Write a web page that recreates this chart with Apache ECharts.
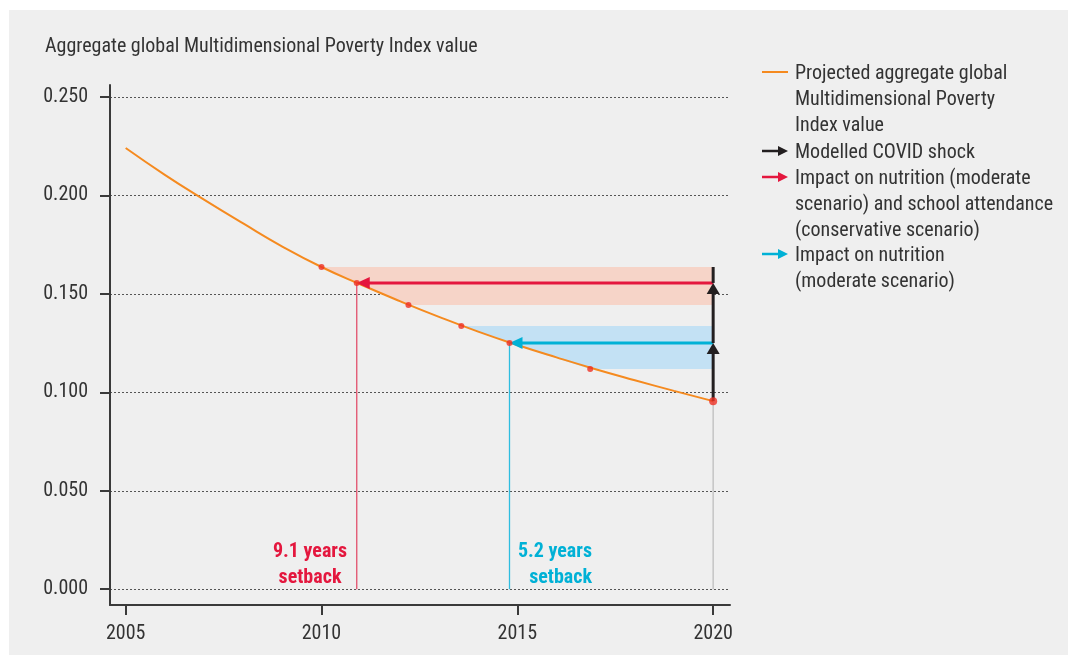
<!DOCTYPE html>
<html><head><meta charset="utf-8">
<script src="https://cdn.jsdelivr.net/npm/echarts@6/dist/echarts.min.js"></script>
<style>
html,body{margin:0;padding:0;background:#fff;}
#wrap{position:relative;width:1068px;height:655px;background:#fff;}
#panel{position:absolute;left:9px;top:10px;width:1059px;height:645px;background:#efefef;}
#c{position:absolute;left:0;top:0;width:1068px;height:655px;}
</style>
</head><body>
<div id="wrap"><div id="panel"></div><div id="c"></div></div>
<script>
// ---- data ----
const years = [2005,2006,2007,2008,2009,2010,2011,2012,2013,2014,2015,2016,2017,2018,2019,2020];
const mpiValues = [0.2240,0.2104,0.1978,0.1857,0.1740,0.1636,0.1547,0.1463,0.1383,0.1308,0.1240,0.1177,0.1117,0.1061,0.1007,0.0955];
const markerYears = [2010, 2010.9, 2012.22, 2013.57, 2014.8, 2016.86, 2020];
const markerValues = [0.1636, 0.1555, 0.1443, 0.1336, 0.1250, 0.1118, 0.0955];
const redBandX = [2010, 2010.9, 2012.22, 2020, 2020];
const redBandY = [0.1636, 0.1555, 0.1443, 0.1443, 0.1636];
const blueBandX = [2013.57, 2014.8, 2016.86, 2020, 2020];
const blueBandY = [0.1336, 0.1250, 0.1118, 0.1118, 0.1336];
const shockYear = 2020;
const shockFrom = [0.0955, 0.1250, 0.1555];
const shockTo = [0.1250, 0.1555, 0.1636];
const shockHead = [1, 1, 0];
const redSetbackYear = 2010.9, redLevel = 0.1555;
const blueSetbackYear = 2014.8, blueLevel = 0.1250;
const yTicks = [0, 0.05, 0.10, 0.15, 0.20, 0.25];
const xTicks = [2005, 2010, 2015, 2020];
const titleText = 'Aggregate global Multidimensional Poverty Index value';
const legendItems = [
  'Projected aggregate global\nMultidimensional Poverty\nIndex value',
  'Modelled COVID shock',
  'Impact on nutrition (moderate\nscenario) and school attendance\n(conservative scenario)',
  'Impact on nutrition\n(moderate scenario)'
];
const redLabel = '9.1 years\nsetback';
const blueLabel = '5.2 years\nsetback';

// ---- style ----
const FONT = "'Liberation Sans Narrow','Roboto Condensed','DejaVu Sans Condensed',sans-serif";
const TXT = '#333333';
const ORANGE = '#f58a1f', DOT = '#ee3124', RED = '#e4173e', BLUE = '#00b1d6', BLACK = '#231f20';

function arrowSeries(data, color, width, headW, headL, z) {
  return {
    type: 'custom', coordinateSystem: 'cartesian2d', z: z, clip: false, silent: true,
    data: data,
    renderItem: function (params, api) {
      const p1 = api.coord([api.value(0), api.value(1)]);
      const p2 = api.coord([api.value(2), api.value(3)]);
      const head = api.value(4);
      const dx = p2[0] - p1[0], dy = p2[1] - p1[1];
      const len = Math.sqrt(dx * dx + dy * dy) || 1;
      const ux = dx / len, uy = dy / len;
      const children = [];
      let end = p2;
      if (head) end = [p2[0] - ux * headL * 0.6, p2[1] - uy * headL * 0.6];
      children.push({type: 'line', shape: {x1: p1[0], y1: p1[1], x2: end[0], y2: end[1]},
        style: {stroke: color, lineWidth: width}});
      if (head) {
        const bx = p2[0] - ux * headL, by = p2[1] - uy * headL;
        const nx = -uy, ny = ux;
        children.push({type: 'polygon', shape: {points: [[p2[0], p2[1]],
          [bx + nx * headW / 2, by + ny * headW / 2], [bx - nx * headW / 2, by - ny * headW / 2]]},
          style: {fill: color}});
      }
      return {type: 'group', children: children};
    }
  };
}

const chart = echarts.init(document.getElementById('c'), null, {renderer: 'canvas'});

const bands = [
  {xs: redBandX, ys: redBandY, color: '#f6d4c8'},
  {xs: blueBandX, ys: blueBandY, color: '#c3e1f4'}
];

// legend graphics
const lgX = 762, lgTextX = 795;
const lgY = [72, 151, 177, 254];
const lgColors = [ORANGE, BLACK, RED, BLUE];
const graphics = [];
graphics.push({type: 'text', left: 45, top: 37, style: {text: titleText, font: '20px ' + FONT, fill: TXT}});
legendItems.forEach(function (t, i) {
  const y = lgY[i];
  if (i === 0) {
    graphics.push({type: 'line', shape: {x1: lgX, y1: y, x2: lgX + 26, y2: y}, style: {stroke: lgColors[i], lineWidth: 2}});
  } else {
    graphics.push({type: 'line', shape: {x1: lgX, y1: y, x2: lgX + 18, y2: y}, style: {stroke: lgColors[i], lineWidth: 2.5}});
    graphics.push({type: 'polygon', shape: {points: [[lgX + 26, y], [lgX + 16, y - 5], [lgX + 16, y + 5]]}, style: {fill: lgColors[i]}});
  }
  graphics.push({type: 'text', x: lgTextX, y: y - 11, style: {text: t, font: '20px ' + FONT, fill: TXT, lineHeight: 25.8, textVerticalAlign: 'top'}});
});
graphics.push({type: 'text', x: 310, y: 539, style: {text: redLabel, font: 'bold 20px ' + FONT, fill: RED, lineHeight: 26, textAlign: 'center', textVerticalAlign: 'top'}});
graphics.push({type: 'text', x: 592, y: 539, style: {text: blueLabel, font: 'bold 20px ' + FONT, fill: BLUE, lineHeight: 26, textAlign: 'right', textVerticalAlign: 'top'}});

const option = {
  backgroundColor: 'transparent',
  animation: false,
  grid: {left: 110, right: 338, top: 85, bottom: 50},
  xAxis: {
    type: 'value', min: 2004.6, max: 2020.43,
    axisLine: {onZero: false, lineStyle: {color: '#3a3a3a', width: 2}},
    axisTick: {customValues: xTicks, length: 10, lineStyle: {color: '#3a3a3a', width: 2}},
    axisLabel: {customValues: xTicks, margin: 19, color: TXT, fontSize: 20, fontFamily: FONT, formatter: function (v) { return String(v); }},
    splitLine: {show: false}
  },
  yAxis: {
    type: 'value', min: -0.008, max: 0.256,
    axisLine: {show: true, onZero: false, lineStyle: {color: '#3a3a3a', width: 2}},
    axisTick: {show: true, customValues: yTicks, length: 10, lineStyle: {color: '#3a3a3a', width: 2}},
    axisLabel: {customValues: yTicks, margin: 22, color: TXT, fontSize: 20, fontFamily: FONT, formatter: function (v) { return v.toFixed(3); }},
    splitLine: {show: true, lineStyle: {color: '#555', width: 1, type: [2, 2]}}
  },
  graphic: graphics,
  series: [
    {
      type: 'custom', coordinateSystem: 'cartesian2d', z: 1, silent: true,
      data: [[0], [1]],
      renderItem: function (params, api) {
        const b = bands[params.dataIndex];
        const pts = b.xs.map(function (x, k) { return api.coord([x, b.ys[k]]); });
        return {type: 'polygon', shape: {points: pts}, style: {fill: b.color}};
      }
    },
    arrowSeries([[redSetbackYear, redLevel, redSetbackYear, 0, 0]], '#e2506c', 1.3, 0, 0, 2),
    arrowSeries([[blueSetbackYear, blueLevel, blueSetbackYear, 0, 0]], '#2ebde0', 1.3, 0, 0, 2),
    arrowSeries([[shockYear, markerValues[6], shockYear, 0, 0]], '#c4c4c4', 1.5, 0, 0, 2),
    {
      type: 'line', z: 3, data: years.map(function (y, i) { return [y, mpiValues[i]]; }),
      smooth: true, showSymbol: false, lineStyle: {color: ORANGE, width: 2}, silent: true
    },
    arrowSeries([[shockYear, redLevel, redSetbackYear, redLevel, 1]], RED, 3, 12, 13, 4),
    arrowSeries([[shockYear, blueLevel, blueSetbackYear, blueLevel, 1]], BLUE, 3, 12, 13, 4),
    arrowSeries(shockFrom.map(function (f, i) { return [shockYear, f, shockYear, shockTo[i], shockHead[i]]; }), BLACK, 3, 13, 11, 5),
    {
      type: 'scatter', z: 6, silent: true,
      data: markerYears.map(function (y, i) { return [y, markerValues[i]]; }),
      symbolSize: function (v) { return v[0] === 2020 ? 8 : 6; },
      itemStyle: {color: DOT}
    }
  ]
};
chart.setOption(option);
</script></body></html>
